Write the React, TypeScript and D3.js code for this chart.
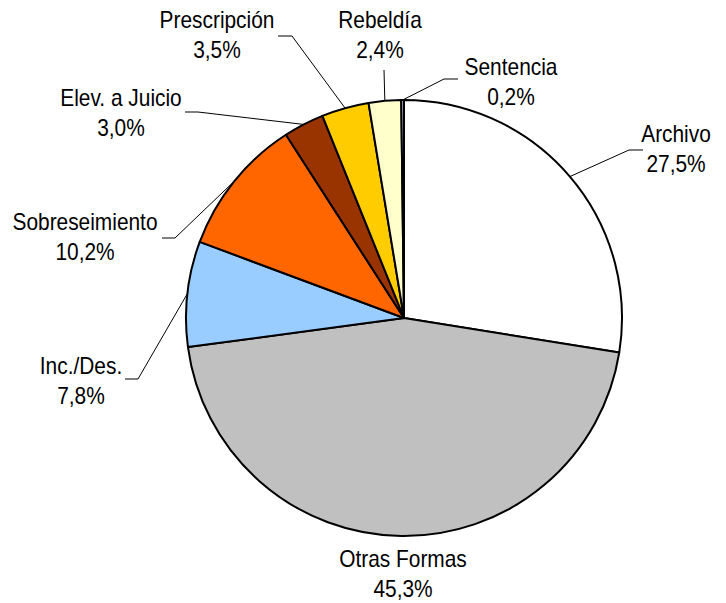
import * as d3 from 'd3';
import React, { useEffect, useRef } from 'react';

const categories = ['Archivo', 'Otras Formas', 'Inc./Des.', 'Sobreseimiento', 'Elev. a Juicio', 'Prescripción', 'Rebeldía', 'Sentencia'];
const shares = [27.5, 45.3, 7.8, 10.2, 3.0, 3.5, 2.4, 0.2];
const colors = ['#FFFFFF', '#C0C0C0', '#99CCFF', '#FF6600', '#993300', '#FFCC00', '#FFFFCC', '#CCCCFF'];

// label placement (text centre x, first line centre y) and leader elbow / end
const labelPos = [
  { x: 676, y: 134, elbow: [629, 150], end: [643, 150] },
  { x: 403, y: 559, elbow: null, end: null },
  { x: 81, y: 366, elbow: [138, 379], end: [125, 379] },
  { x: 85, y: 222, elbow: [175, 238], end: [162, 238] },
  { x: 121, y: 98, elbow: [198, 112], end: [185, 112] },
  { x: 217, y: 20, elbow: [292, 36], end: [278, 36] },
  { x: 380, y: 20, elbow: [384, 70], end: [384, 70] },
  { x: 511, y: 67, elbow: [444, 79], end: [458, 79] },
];

const W = 726, H = 603;

export default function App() {
  const ref = useRef(null);

  useEffect(() => {
    const svg = d3.select(ref.current);
    svg.selectAll('*').remove();

    const cx = 404, cy = 318, r = 218;
    const locale = d3.formatLocale({ decimal: ',', thousands: '.', grouping: [3], currency: ['', '€'] });
    const fmt = locale.format('.1f');

    const data = categories.map((c, i) => ({ name: c, value: shares[i], color: colors[i], lab: labelPos[i] }));
    const pie = d3.pie().value(d => d.value).sort(null);
    const arc = d3.arc().innerRadius(0).outerRadius(r);
    const arcs = pie(data);

    const g = svg.append('g').attr('transform', 'translate(' + cx + ',' + cy + ')');
    g.selectAll('path.slice')
      .data(arcs)
      .enter().append('path')
      .attr('class', 'slice')
      .attr('d', arc)
      .attr('fill', d => d.data.color)
      .attr('stroke', '#000')
      .attr('stroke-width', 2)
      .attr('stroke-linejoin', 'round');

    // leader lines
    arcs.forEach(a => {
      const lab = a.data.lab;
      if (!lab.elbow) return;
      const mid = (a.startAngle + a.endAngle) / 2;
      const p0 = [cx + r * Math.sin(mid), cy - r * Math.cos(mid)];
      svg.append('polyline')
        .attr('points', [p0, lab.elbow, lab.end].map(p => p.join(',')).join(' '))
        .attr('fill', 'none')
        .attr('stroke', '#000')
        .attr('stroke-width', 1);
    });

    // labels: font is rendered narrow in the original, so squeeze horizontally
    const lg = svg.selectAll('g.lab')
      .data(arcs)
      .enter().append('g')
      .attr('class', 'lab')
      .attr('transform', d => 'translate(' + d.data.lab.x + ',' + d.data.lab.y + ') scale(0.87,1)');
    const t = lg.append('text')
      .attr('text-anchor', 'middle')
      .attr('font-family', 'Liberation Sans, Arial, sans-serif')
      .attr('font-size', 24)
      .attr('fill', '#000');
    t.append('tspan')
      .attr('x', 0)
      .attr('y', 0)
      .attr('dy', '0.35em')
      .text(d => d.data.name);
    t.append('tspan')
      .attr('x', 0)
      .attr('y', 30)
      .attr('dy', '0.35em')
      .text(d => fmt(d.data.value) + '%');
  }, []);

  return (
    <div style={{ position: 'absolute', left: 0, top: 0 }}>
      <svg ref={ref} width={W} height={H} style={{ display: 'block', background: '#fff' }} />
    </div>
  );
}
